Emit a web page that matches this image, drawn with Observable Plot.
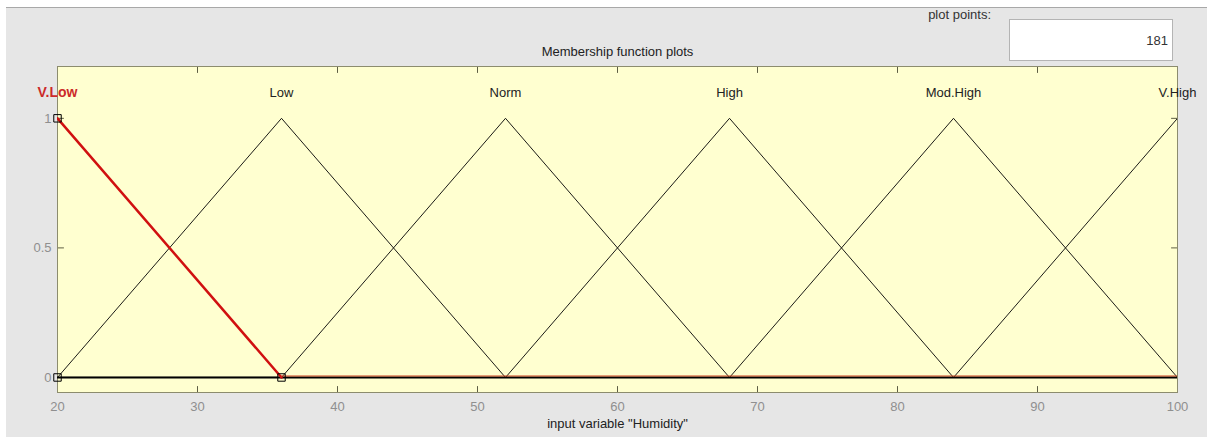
<!DOCTYPE html>
<html>
<head>
<meta charset="utf-8">
<script src="https://cdn.jsdelivr.net/npm/d3@7"></script>
<script src="https://cdn.jsdelivr.net/npm/@observablehq/plot@0.6"></script>
<style>
  html, body { margin: 0; padding: 0; background: #ffffff; }
  #wrap { position: relative; width: 1207px; height: 437px; overflow: hidden; font-family: "Liberation Sans", Arial, sans-serif; }
  #panel { position: absolute; left: 6px; top: 7px; right: 0; bottom: 0; background: #e6e6e6; border-top: 1px solid #a8a8a8; }
  #chart { position: absolute; left: 0; top: 0; }
  #pp { position: absolute; left: 890px; width: 101px; top: 7px; text-align: right; font-size: 13px; color: #333; }
  #box { position: absolute; left: 1009px; top: 19px; width: 162px; height: 40px; background: #fff; border: 1px solid #b4b4b4; }
  #box span { position: absolute; right: 4px; top: 13px; font-size: 13px; color: #333; }
</style>
</head>
<body>
<div id="wrap">
  <div id="panel"></div>
  <div id="chart"></div>
  <div id="pp">plot points:</div>
  <div id="box"><span id="npts"></span></div>
</div>
<script>
const plotPoints = 181;
const mfNames = ["V.Low", "Low", "Norm", "High", "Mod.High", "V.High"];
const mfA = [20, 20, 36, 52, 68, 84];
const mfB = [20, 36, 52, 68, 84, 100];
const mfC = [36, 52, 68, 84, 100, 100];
const xRange = [20, 100];
const xTicks = [20, 30, 40, 50, 60, 70, 80, 90, 100];
const yTicks = [0, 0.5, 1];
const selected = 0;
const titleText = "Membership function plots";
const xLabel = 'input variable "Humidity"';

document.getElementById("npts").textContent = plotPoints;

const yDomain = [-0.058, 1.2];

function trimf(x, a, b, c) {
  const l = b === a ? (x >= a ? 1 : 0) : (x - a) / (b - a);
  const r = c === b ? (x <= c ? 1 : 0) : (c - x) / (c - b);
  return Math.max(0, Math.min(l, r, 1));
}
const lines = [];
mfNames.forEach((name, i) => {
  const xs = Array.from(new Set([xRange[0], mfA[i], mfB[i], mfC[i], xRange[1]]))
    .filter(x => x >= xRange[0] && x <= xRange[1]).sort((p, q) => p - q);
  xs.forEach(x => {
    let y = trimf(x, mfA[i], mfB[i], mfC[i]);
    if (i === selected && x === mfB[i]) y = 1;
    lines.push({name, i, x, y});
  });
});
const peaks = mfNames.map((name, i) => ({name, i, x: mfB[i], y: 1.1}));
const verts = [
  {x: mfA[selected], y: 0}, {x: mfB[selected], y: 1}, {x: mfC[selected], y: 0}
];
const others = lines.filter(d => d.i !== selected);
const sel = lines.filter(d => d.i === selected && d.x <= mfC[selected]);
const tickColor = "#5e5e44";
const labColor = "#8f8f8f";

const tickShape = {draw(ctx, l) { ctx.moveTo(0, 0); ctx.lineTo(0, -l); }};
const tk = {length: 6, anchor: "start", shape: tickShape, stroke: tickColor, strokeWidth: 1};

const chart = Plot.plot({
  width: 1207,
  height: 437,
  marginLeft: 57,
  marginRight: 30,
  marginTop: 66,
  marginBottom: 45,
  style: {background: "transparent", fontFamily: "'Liberation Sans', Arial, sans-serif", fontSize: "13px", overflow: "visible"},
  x: {domain: xRange},
  y: {domain: yDomain},
  marks: [
    Plot.frame({fill: "#ffffd0", stroke: null}),
    Plot.vector(xTicks, {x: d => d, y: yDomain[0], rotate: 0, ...tk}),
    Plot.vector(xTicks, {x: d => d, y: yDomain[1], rotate: 180, ...tk}),
    Plot.vector(yTicks, {x: xRange[0], y: d => d, rotate: 90, ...tk}),
    Plot.vector(yTicks, {x: xRange[1], y: d => d, rotate: 270, ...tk}),
    Plot.axisX(xTicks, {anchor: "bottom", tickSize: 0, tickPadding: 9, fill: labColor, label: null, fontSize: 13}),
    Plot.axisY(yTicks, {anchor: "left", tickSize: 0, tickPadding: 6, fill: labColor, label: null, fontSize: 13, tickFormat: d => String(d)}),
    Plot.frame({stroke: "#8c8c6e"}),
    Plot.line(others, {x: "x", y: "y", z: "name", stroke: "#000", strokeWidth: 0.9, clip: true}),
    Plot.ruleY([0], {stroke: "#000", strokeWidth: 2}),
    Plot.line(sel, {x: "x", y: "y", stroke: "#d01010", strokeWidth: 2.5, clip: true}),
    Plot.ruleY([0], {x1: mfC[selected], x2: xRange[1], stroke: "#d04a28", strokeWidth: 1, dy: -1.5}),
    Plot.dot(verts, {x: "x", y: "y", symbol: "square", r: 4.2, stroke: "#000", strokeWidth: 1, fill: "none"}),
    Plot.text(peaks.filter(d => d.i !== selected), {x: "x", y: "y", text: "name", fill: "#222", fontSize: 13}),
    Plot.text(peaks.filter(d => d.i === selected), {x: "x", y: "y", text: "name", fill: "#cc2a2a", fontWeight: "bold", fontSize: 14}),
    Plot.text([titleText], {frameAnchor: "top", dy: -20, fill: "#222", fontSize: 13}),
    Plot.text([xLabel], {frameAnchor: "bottom", dy: 35, fill: "#222", fontSize: 13})
  ]
});
document.getElementById("chart").appendChild(chart);
</script>
</body>
</html>
